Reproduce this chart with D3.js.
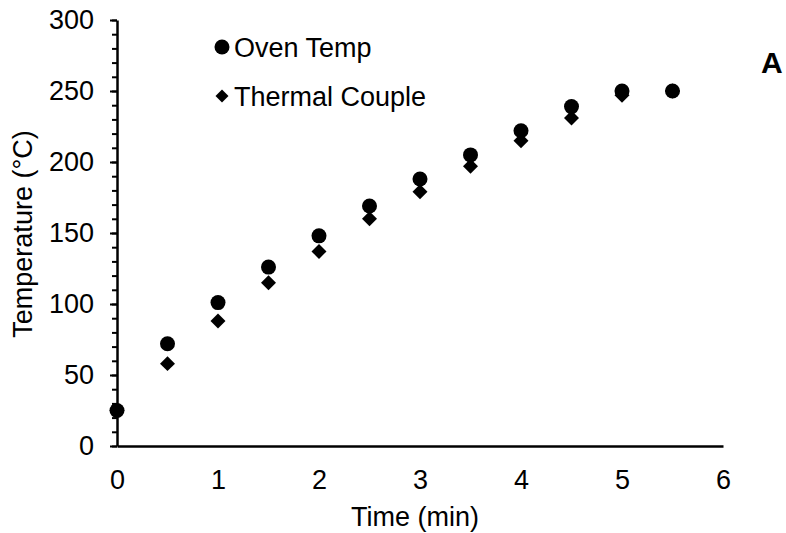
<!DOCTYPE html>
<html>
<head>
<meta charset="utf-8">
<script src="https://cdn.jsdelivr.net/npm/d3@7"></script>
<style>
  html, body { margin: 0; padding: 0; background: #fff; }
  svg { display: block; }
  text { font-family: "Liberation Sans", Arial, sans-serif; fill: #000; }
</style>
</head>
<body>
<svg id="chart" width="786" height="533"></svg>
<script>
// Heating profile: oven set temperature vs. thermocouple reading over time
const times   = [0, 0.5, 1, 1.5, 2, 2.5, 3, 3.5, 4, 4.5, 5, 5.5];
const ovenTemp = [25, 72, 101, 126, 148, 169, 188, 205, 222, 239, 250, 250];
const thermalCouple = [25, 58, 88, 115, 137, 160, 179, 197, 215, 231, 247, 250];

const xTicks = [0, 1, 2, 3, 4, 5, 6];
const yMajorTicks = [0, 50, 100, 150, 200, 250, 300];
const yMinorTicks = d3.range(0, 301, 10);

const seriesNames = ["Oven Temp", "Thermal Couple"];
const panelLabel = "A";

const svg = d3.select("#chart");
const fontSize = 27;

const x = d3.scaleLinear().domain([0, 6]).range([117, 723]);
const y = d3.scaleLinear().domain([0, 300]).range([446, 20]);

// minor ticks on the y axis
svg.append("g")
  .attr("transform", `translate(${x(0)},0)`)
  .call(d3.axisLeft(y).tickValues(yMinorTicks).tickSize(5).tickFormat(""))
  .call(g => g.select(".domain").remove())
  .call(g => g.selectAll("line").attr("stroke", "#000").attr("stroke-width", 2));

// y axis with major ticks and labels
svg.append("g")
  .attr("transform", `translate(${x(0)},0)`)
  .call(d3.axisLeft(y).tickValues(yMajorTicks).tickSize(7).tickPadding(16).tickSizeOuter(0))
  .call(g => g.select(".domain").attr("stroke", "#000").attr("stroke-width", 2.5))
  .call(g => g.selectAll("line").attr("stroke", "#000").attr("stroke-width", 2))
  .call(g => g.selectAll("text").attr("font-size", fontSize).attr("font-family", "Liberation Sans, Arial, sans-serif"));

// x axis: line and labels only
svg.append("g")
  .attr("transform", `translate(0,${y(0)})`)
  .call(d3.axisBottom(x).tickValues(xTicks).tickFormat(d3.format("d")).tickSize(0).tickPadding(24).tickSizeOuter(0))
  .call(g => g.select(".domain").attr("stroke", "#000").attr("stroke-width", 2.5))
  .call(g => g.selectAll("text").attr("font-size", fontSize).attr("font-family", "Liberation Sans, Arial, sans-serif"));

// axis titles
svg.append("text")
  .attr("x", (x(0) + x(6)) / 2 - 5)
  .attr("y", 526)
  .attr("text-anchor", "middle")
  .attr("font-size", fontSize)
  .text("Time (min)");

svg.append("text")
  .attr("transform", `translate(32,${234}) rotate(-90)`)
  .attr("text-anchor", "middle")
  .attr("font-size", fontSize)
  .text("Temperature (°C)");

// markers
const diamond = d3.symbol().type(d3.symbolSquare).size(112);
const plot = svg.append("g");

plot.selectAll("path.tc")
  .data(times.map((t, i) => [t, thermalCouple[i]]))
  .join("path")
  .attr("class", "tc")
  .attr("d", diamond)
  .attr("transform", d => `translate(${x(d[0])},${y(d[1])}) rotate(45)`)
  .attr("fill", "#000");

plot.selectAll("circle.oven")
  .data(times.map((t, i) => [t, ovenTemp[i]]))
  .join("circle")
  .attr("class", "oven")
  .attr("cx", d => x(d[0]))
  .attr("cy", d => y(d[1]))
  .attr("r", 7.5)
  .attr("fill", "#000");

// legend
const legend = svg.append("g");
legend.append("circle").attr("cx", 222).attr("cy", 47).attr("r", 7.5).attr("fill", "#000");
legend.append("text").attr("x", 234).attr("y", 57).attr("font-size", fontSize).text(seriesNames[0]);
legend.append("path").attr("d", d3.symbol().type(d3.symbolSquare).size(84))
  .attr("transform", "translate(222,96) rotate(45)").attr("fill", "#000");
legend.append("text").attr("x", 234).attr("y", 106).attr("font-size", fontSize).text(seriesNames[1]);

// panel label
svg.append("text")
  .attr("x", 761)
  .attr("y", 73)
  .attr("font-size", 30)
  .attr("font-weight", "bold")
  .text(panelLabel);
</script>
</body>
</html>
